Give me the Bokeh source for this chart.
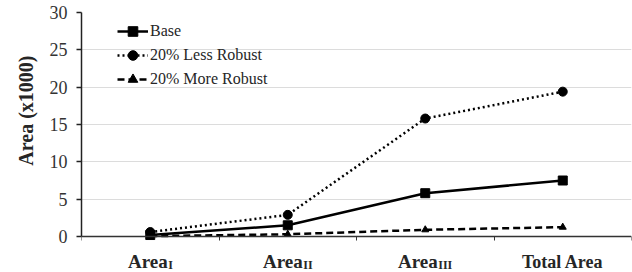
from bokeh.plotting import figure
from bokeh.models import Range1d, FixedTicker, Legend, LegendItem, Label, Title
from bokeh.embed import file_html
from bokeh.resources import INLINE

# ---- data ----
cat_main = ["Area", "Area", "Area", "Total Area"]
cat_sub = ["I", "II", "III", ""]
base = [0.2, 1.5, 5.8, 7.5]
less_robust = [0.6, 2.9, 15.8, 19.4]
more_robust = [0.05, 0.3, 0.9, 1.25]
y_ticks = [0, 5, 10, 15, 20, 25, 30]
series_names = ["Base", "20% Less Robust", "20% More Robust"]
y_title = "Area (x1000)"

n = len(cat_main)
x = [i + 0.5 for i in range(n)]

SERIF = "Liberation Serif"
TXT = "#262626"

p = figure(width=632, height=272, output_backend="svg", toolbar_location=None,
           x_range=Range1d(0, n), y_range=Range1d(-4.82, 30),
           min_border_left=81, min_border_right=1, min_border_top=12, min_border_bottom=0)
p.outline_line_color = None
p.background_fill_color = "white"
p.border_fill_color = "white"

# y axis
p.yaxis.ticker = FixedTicker(ticks=y_ticks)
p.yaxis.bounds = (0, 30)
p.yaxis.major_label_text_font = SERIF
p.yaxis.major_label_text_font_size = "18px"
p.yaxis.major_label_text_color = "#333333"
p.yaxis.axis_line_color = "#222222"
p.yaxis.axis_line_width = 1.5
p.yaxis.major_tick_line_color = "#222222"
p.yaxis.major_tick_line_width = 1.5
p.yaxis.major_tick_out = 5
p.yaxis.major_tick_in = 0
p.yaxis.minor_tick_line_color = None
p.yaxis.major_label_standoff = 9

p.add_layout(Title(text=y_title, align="right", offset=43, text_font=SERIF,
                   text_font_style="bold", text_font_size="20px", text_color=TXT,
                   standoff=20), "left")

# x axis drawn at y = 0 inside the frame
p.xaxis.fixed_location = 0
p.xaxis.ticker = FixedTicker(ticks=list(range(n + 1)))
p.xaxis.major_label_text_font_size = "0px"
p.xaxis.major_label_text_alpha = 0
p.xaxis.major_label_standoff = 0
p.xaxis.axis_line_color = "#333333"
p.xaxis.axis_line_width = 1.5
p.xaxis.major_tick_line_color = "#333333"
p.xaxis.major_tick_line_width = 1
p.xaxis.major_tick_out = 4
p.xaxis.major_tick_in = 0
p.xaxis.minor_tick_line_color = None

p.xgrid.grid_line_color = None
p.ygrid.grid_line_color = "#dcdcdc"
p.ygrid.grid_line_width = 1
p.ygrid.ticker = FixedTicker(ticks=y_ticks)

# series
l1 = p.line(x, base, line_color="black", line_width=2.5)
m1 = p.scatter(x, base, marker="square", size=9, color="black")
l2 = p.line(x, less_robust, line_color="black", line_width=2.5, line_dash="2 3")
m2 = p.scatter(x, less_robust, marker="circle", size=9, color="black")
l3 = p.line(x, more_robust, line_color="black", line_width=2.5, line_dash="7 4")
m3 = p.scatter(x, more_robust, marker="triangle", size=7, color="black")

legend = Legend(items=[
    LegendItem(label=series_names[0], renderers=[l1, m1]),
    LegendItem(label=series_names[1], renderers=[l2, m2]),
    LegendItem(label=series_names[2], renderers=[l3, m3]),
], location=(36, 181))
legend.label_text_font = SERIF
legend.label_text_font_size = "16px"
legend.label_text_color = TXT
legend.glyph_width = 31
legend.glyph_height = 24
legend.label_height = 24
legend.label_standoff = 2
legend.spacing = 0
legend.padding = 0
legend.margin = 0
legend.border_line_color = None
legend.background_fill_alpha = 0
p.add_layout(legend)

# category labels with subscripts
for xi, main, sub in zip(x, cat_main, cat_sub):
    if sub:
        off = 20 - 2.5 * len(sub)
        p.add_layout(Label(x=xi, y=0, text=main, text_align="right", text_baseline="alphabetic",
                           x_offset=off, y_offset=-25, text_font=SERIF, text_font_style="bold",
                           text_font_size="19px", text_color=TXT))
        p.add_layout(Label(x=xi, y=0, text=sub, text_align="left", text_baseline="alphabetic",
                           x_offset=off + 0.5, y_offset=-28, text_font=SERIF, text_font_style="bold",
                           text_font_size="12px", text_color=TXT))
    else:
        p.add_layout(Label(x=xi, y=0, text=main, text_align="center", text_baseline="alphabetic",
                           y_offset=-25, text_font=SERIF, text_font_style="bold",
                           text_font_size="18px", text_color=TXT))

open("out.html", "w").write(file_html(p, INLINE))
